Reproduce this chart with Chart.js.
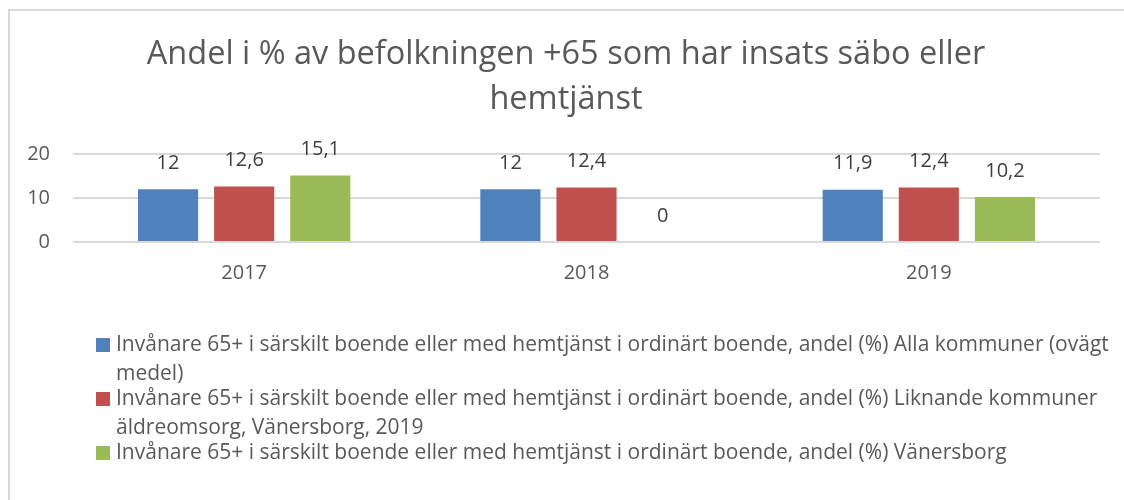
<!DOCTYPE html>
<html><head><meta charset="utf-8">
<script src="https://cdn.jsdelivr.net/npm/chart.js@4.4.0/dist/chart.umd.min.js"></script>
<style>
html,body{margin:0;padding:0;background:#fff;}
#wrap{position:relative;width:1124px;height:500px;}
#frame{position:absolute;left:8px;top:9px;right:0;bottom:0;border-left:2px solid #d9d9d9;border-top:2px solid #d9d9d9;pointer-events:none;}
</style></head><body>
<div id="wrap"><canvas id="c" width="1124" height="500"></canvas><div id="frame"></div></div>
<script>
const titleLines = ["Andel i % av befolkningen +65 som har insats säbo eller", "hemtjänst"];
const categories = ["2017", "2018", "2019"];
const seriesNames = [
  "Invånare 65+ i särskilt boende eller med hemtjänst i ordinärt boende, andel (%) Alla kommuner (ovägt medel)",
  "Invånare 65+ i särskilt boende eller med hemtjänst i ordinärt boende, andel (%) Liknande kommuner äldreomsorg, Vänersborg, 2019",
  "Invånare 65+ i särskilt boende eller med hemtjänst i ordinärt boende, andel (%) Vänersborg"
];
const allaKommuner = [12, 12, 11.9];
const liknandeKommuner = [12.6, 12.4, 12.4];
const vanersborg = [15.1, 0, 10.2];
const yTicks = [0, 10, 20];
const colors = ["#4F81BD", "#C0504D", "#9BBB59"];

const FONT = "'Open Sans', Lato, sans-serif";

const frameTitle = {
  id: 'frameTitle',
  afterDraw(chart) {
    const ctx = chart.ctx;
    ctx.save();
    ctx.font = "32.5px " + FONT;
    ctx.fillStyle = "#595959";
    ctx.textAlign = "center";
    ctx.textBaseline = "middle";
    const cx = (8 + chart.width) / 2;
    titleLines.forEach((t, i) => ctx.fillText(t, cx, 55 + i * 45));
    ctx.restore();
  }
};

const valueLabels = {
  id: 'valueLabels',
  afterDatasetsDraw(chart) {
    const ctx = chart.ctx;
    ctx.save();
    ctx.font = "20px " + FONT;
    ctx.fillStyle = "#404040";
    ctx.textAlign = "center";
    ctx.textBaseline = "middle";
    chart.data.datasets.forEach((ds, i) => {
      const meta = chart.getDatasetMeta(i);
      meta.data.forEach((bar, j) => {
        const v = ds.data[j];
        ctx.fillText(String(v).replace('.', ','), bar.x, bar.y - 26);
      });
    });
    ctx.restore();
  }
};

const wrapLegend = {
  id: 'wrapLegend',
  afterDraw(chart) {
    const ctx = chart.ctx;
    ctx.save();
    ctx.font = "21px " + FONT;
    ctx.textBaseline = "middle";
    const textX = 116, boxX = 96, maxW = 1002;
    let y = 345;
    chart.data.datasets.forEach((ds) => {
      const words = ds.label.split(' ');
      const lines = [];
      let cur = '';
      words.forEach(w => {
        const t = cur ? cur + ' ' + w : w;
        if (ctx.measureText(t).width > maxW && cur) { lines.push(cur); cur = w; }
        else cur = t;
      });
      if (cur) lines.push(cur);
      ctx.fillStyle = ds.backgroundColor;
      ctx.fillRect(boxX, y - 7, 14, 14);
      ctx.fillStyle = "#595959";
      lines.forEach((ln, k) => {
        ctx.fillText(ln, textX, y);
        y += (k < lines.length - 1) ? 29 : 25;
      });
    });
    ctx.restore();
  }
};

new Chart(document.getElementById('c'), {
  type: 'bar',
  data: {
    labels: categories,
    datasets: [
      { label: seriesNames[0], data: allaKommuner, backgroundColor: colors[0] },
      { label: seriesNames[1], data: liknandeKommuner, backgroundColor: colors[1] },
      { label: seriesNames[2], data: vanersborg, backgroundColor: colors[2] }
    ]
  },
  options: {
    responsive: false,
    animation: false,
    devicePixelRatio: 1,
    categoryPercentage: 0.667,
    barPercentage: 0.79,
    layout: { padding: { left: 0, right: 24, top: 154, bottom: 208 } },
    plugins: {
      legend: { display: false },
      tooltip: { enabled: false },
      title: { display: false }
    },
    scales: {
      x: {
        grid: { display: false },
        border: { display: false },
        afterFit: (s) => { s.height = 50; },
        ticks: { color: "#595959", font: { family: FONT, size: 20 }, padding: 11 }
      },
      y: {
        min: 0, max: 20,
        afterBuildTicks: (s) => { s.ticks = yTicks.map(v => ({ value: v })); },
        afterFit: (s) => { s.width = 73; },
        grid: { color: "#d9d9d9", lineWidth: 2, drawTicks: false },
        border: { display: false },
        ticks: { color: "#595959", font: { family: FONT, size: 20 }, padding: 23 }
      }
    }
  },
  plugins: [frameTitle, valueLabels, wrapLegend]
});
</script>
</body></html>
